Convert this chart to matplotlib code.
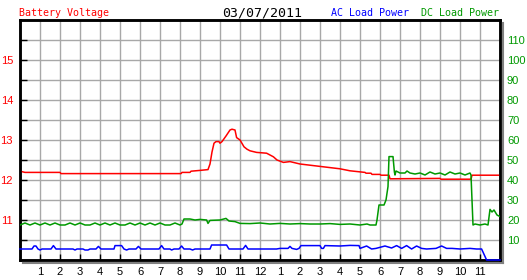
import matplotlib
matplotlib.use("Agg")
import matplotlib.pyplot as plt
from matplotlib.lines import Line2D

############################################### data (hours of the day)
title = "03/07/2011"
hour_labels = ["1", "2", "3", "4", "5", "6", "7", "8", "9", "10", "11", "12",
               "1", "2", "3", "4", "5", "6", "7", "8", "9", "10", "11"]

volt_h = [0, 0.25, 2.0, 2.05, 8.05, 8.1, 8.5, 8.55, 9.0, 9.4, 9.5, 9.6, 9.7, 9.8,
          9.95, 10.0, 10.1, 10.3, 10.5, 10.6, 10.75, 10.83, 11.0, 11.2, 11.35, 11.5,
          11.83, 12.33, 12.67, 12.85, 13.17, 13.5, 14.0, 15.0, 16.0, 16.5, 17.25,
          17.3, 17.55, 17.6, 18.0, 18.05, 18.45, 18.5, 21.0, 21.05, 22.55, 22.6, 24.0]
volt_v = [12.22, 12.19, 12.19, 12.16, 12.16, 12.19, 12.19, 12.22, 12.24, 12.26, 12.4,
          12.7, 12.92, 12.96, 12.96, 12.92, 12.96, 13.1, 13.25, 13.27, 13.25, 13.06,
          13.0, 12.83, 12.77, 12.73, 12.69, 12.67, 12.58, 12.5, 12.44, 12.46, 12.4,
          12.34, 12.28, 12.23, 12.19, 12.17, 12.17, 12.14, 12.14, 12.12, 12.12, 12.03,
          12.04, 12.02, 12.02, 12.12, 12.12]

dc_h = [0, 0.25, 0.5, 0.75, 1.0, 1.25, 1.5, 1.75, 2.0, 2.25, 2.5, 2.75, 3.0, 3.25,
        3.5, 3.75, 4.0, 4.25, 4.5, 4.75, 5.0, 5.25, 5.5, 5.75, 6.0, 6.25, 6.5, 6.75,
        7.0, 7.25, 7.5, 7.75, 8.0, 8.1, 8.2, 8.5, 8.75, 9.0, 9.33, 9.4, 9.5, 10.0,
        10.3, 10.45, 10.75, 11.0, 11.5, 12.0, 12.5, 13.0, 13.5, 14.0, 14.5, 15.0,
        15.5, 16.0, 16.5, 17.0, 17.35, 17.5, 17.8, 17.85, 17.95, 18.2, 18.3, 18.4,
        18.45, 18.65, 18.72, 18.75, 18.8, 19.0, 19.25, 19.35, 19.5, 19.75, 20.0,
        20.25, 20.5, 20.75, 21.0, 21.25, 21.5, 21.75, 22.0, 22.25, 22.5, 22.55,
        22.65, 22.75, 23.0, 23.25, 23.4, 23.5, 23.6, 23.7, 23.85, 24.0]
dc_w = [17.5, 18.5, 17.5, 18.5, 17.5, 18.5, 17.5, 18.5, 17.5, 17.5, 18.5, 17.5, 18.5,
        17.5, 17.5, 18.5, 17.5, 18.5, 17.5, 18.5, 17.5, 17.5, 18.5, 17.5, 18.5, 17.5,
        18.5, 17.5, 18.5, 17.5, 17.5, 18.5, 17.5, 18.0, 20.5, 20.5, 20.0, 20.3, 20.0,
        18.3, 19.8, 20.0, 20.8, 19.5, 19.2, 18.3, 18.2, 18.5, 18.0, 18.3, 18.0, 18.2,
        18.0, 18.0, 18.2, 17.8, 18.0, 17.5, 18.0, 17.5, 17.5, 20.0, 27.5, 27.5, 30.0,
        36.7, 51.7, 51.7, 44.0, 42.5, 44.5, 43.5, 43.5, 44.5, 43.5, 43.0, 43.5, 42.5,
        44.0, 43.0, 43.5, 42.5, 44.0, 43.0, 43.5, 42.5, 43.5, 42.5, 17.5, 18.0, 17.5,
        18.0, 17.5, 25.3, 24.0, 25.0, 22.5, 21.7]

ac_h = [0, 0.6, 0.7, 0.8, 0.9, 1.0, 1.1, 1.55, 1.67, 1.8, 2.65, 2.75, 2.85, 3.15,
        3.25, 3.4, 3.5, 3.8, 3.92, 4.05, 4.7, 4.75, 5.08, 5.2, 5.33, 5.45, 5.8, 5.92,
        6.05, 6.95, 7.08, 7.2, 7.5, 7.58, 7.7, 7.95, 8.08, 8.2, 8.5, 8.63, 8.75, 9.5,
        9.58, 10.33, 10.45, 11.15, 11.28, 11.4, 12.0, 12.83, 13.0, 13.4, 13.5, 13.6,
        13.83, 13.95, 14.05, 15.0, 15.08, 15.17, 15.25, 16.0, 16.5, 16.95, 17.0,
        17.33, 17.58, 17.8, 18.25, 18.58, 18.83, 19.08, 19.33, 19.58, 19.83, 20.08,
        20.33, 20.8, 21.08, 21.33, 21.6, 22.0, 22.5, 22.83, 23.08, 23.33, 24.0]
ac_w = [5.5, 5.5, 7.0, 7.0, 5.5, 5.0, 5.5, 5.5, 7.2, 5.5, 5.5, 5.0, 5.5, 5.5, 5.0,
        5.0, 5.5, 5.5, 6.8, 5.5, 5.5, 7.2, 7.2, 5.5, 5.0, 5.5, 5.5, 6.8, 5.5, 5.5,
        7.2, 5.5, 5.5, 5.0, 5.5, 5.5, 7.0, 5.5, 5.5, 5.0, 5.5, 5.5, 7.5, 7.5, 5.5,
        5.5, 7.3, 5.5, 5.5, 5.5, 5.8, 5.8, 6.8, 5.8, 5.3, 5.8, 7.2, 7.2, 5.8, 5.8,
        7.2, 7.0, 7.3, 7.2, 5.8, 7.0, 5.5, 5.8, 7.0, 6.0, 7.2, 5.8, 7.2, 5.5, 7.0,
        5.8, 5.5, 5.8, 7.0, 5.8, 5.8, 5.5, 5.8, 5.5, 5.5, 0.0, 0.0]

############################################### figure
red = "#ff0000"
green = "#009900"
blue = "#0000ff"
grid_c = "#a8a8a8"

W, H = 527, 280
fig = plt.figure(figsize=(W / 100, H / 100), dpi=100)
fig.patch.set_facecolor("white")

def fx(px):
    return px / W

def fy(py):
    return 1 - py / H

ax = fig.add_axes([fx(20), fy(260), fx(500) - fx(20), fy(20) - fy(260)])
ax2 = ax.twinx()

# shadow of the frame
fig.add_artist(Line2D([fx(502.5), fx(502.5)], [fy(23), fy(262.5)], color="#808080", lw=1.5))
fig.add_artist(Line2D([fx(23), fx(502.5)], [fy(262.5), fy(262.5)], color="#808080", lw=1.5))

ax.set_xlim(0, 24)
ax.set_ylim(10, 16)
ax2.set_ylim(0, 120)

ax.set_xticks(range(1, 24))
ax.set_xticklabels(hour_labels)
ax.set_yticks([11, 12, 13, 14, 15])
ax.set_yticks([10.5, 11.5, 12.5, 13.5, 14.5, 15.5], minor=True)
ax2.set_yticks(range(10, 120, 10))

# grid: every hour, every half volt
for h in range(1, 24):
    ax.axvline(h, color=grid_c, lw=1, zorder=0)
for v in [10.5, 11, 11.5, 12, 12.5, 13, 13.5, 14, 14.5, 15, 15.5]:
    ax.axhline(v, color=grid_c, lw=1, zorder=0)

ax.tick_params(axis="x", which="major", direction="in", length=4, width=1, color="black",
               labelsize=8, pad=5, labelcolor="black")
ax.tick_params(axis="y", which="both", direction="in", length=5, width=1, color="black",
               labelsize=8, labelcolor=red, pad=5)
ax2.tick_params(axis="y", direction="in", length=0, labelsize=8, labelcolor=green, pad=5)
for lab in ax.get_xticklabels() + ax.get_yticklabels() + ax2.get_yticklabels():
    lab.set_family("Liberation Sans")

for a in (ax, ax2):
    for s in a.spines.values():
        s.set_linewidth(1.8)
        s.set_color("black")

ax.plot(volt_h, volt_v, color=red, lw=1.1, zorder=3)
ax2.plot(dc_h, dc_w, color=green, lw=1.1, zorder=3)
ax2.plot(ac_h, ac_w, color=blue, lw=1.1, zorder=3, clip_on=False)

############################################### header texts
mono = "DejaVu Sans Mono"
fig.text(fx(19), fy(16), "Battery Voltage", color=red, fontsize=7.2, family=mono, va="baseline")
fig.text(fx(262), fy(16), title, color="black", fontsize=9.5, family=mono, ha="center", va="baseline")
fig.text(fx(331), fy(16), "AC Load Power", color=blue, fontsize=7.2, family=mono, va="baseline")
fig.text(fx(421), fy(16), "DC Load Power", color=green, fontsize=7.2, family=mono, va="baseline")

fig.savefig("out.png", dpi=100, facecolor="white")
